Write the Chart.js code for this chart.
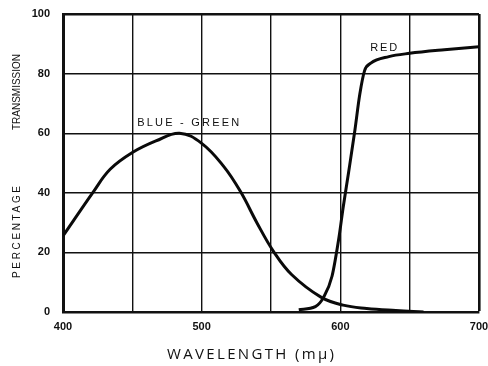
<!DOCTYPE html>
<html>
<head>
<meta charset="utf-8">
<script src="https://cdn.jsdelivr.net/npm/chart.js@4/dist/chart.umd.min.js"></script>
<style>
  html, body { margin: 0; padding: 0; background: #fff; }
  #wrap { width: 488px; height: 366px; }
</style>
</head>
<body>
<div id="wrap"><canvas id="c" width="488" height="366"></canvas></div>
<script>
// Data
const blueGreenWavelength = [400, 422, 434, 450, 467, 484, 500, 516, 528, 540, 552, 565, 586, 602, 619, 640, 660];
const blueGreenTransmission = [25.5, 40.4, 47.9, 53.5, 57.4, 60, 56.6, 48.8, 40.4, 29.8, 20.2, 12.5, 5, 2.3, 1.2, 0.5, 0];
const redWavelength = [570, 582, 588, 594, 599, 602, 606, 610.5, 614, 617.5, 622, 635, 650, 675, 700];
const redTransmission = [0.8, 1.8, 5, 12, 25, 35, 47, 61, 73, 81, 83.5, 85.7, 86.8, 88, 89];
const xTickLabels = [400, 500, 600, 700];
const yTickLabels = [0, 20, 40, 60, 80, 100];
const seriesNames = ['BLUE - GREEN', 'RED'];
const xAxisTitle = 'WAVELENGTH (m\u03BC)';
const yAxisTitleParts = ['PERCENTAGE', 'TRANSMISSION'];

function pts(xs, ys) { return xs.map((x, i) => ({ x: x, y: ys[i] })); }

function fitText(ctx, text, width) {
  ctx.letterSpacing = '0px';
  const w = ctx.measureText(text).width;
  const n = Array.from(text).length;
  const sp = (width - w) / Math.max(1, n - 1);
  ctx.letterSpacing = sp.toFixed(2) + 'px';
}

const textPlugin = {
  id: 'texts',
  afterDraw(chart) {
    const ctx = chart.ctx;
    const xs = chart.scales.x, ys = chart.scales.y;
    ctx.save();
    ctx.fillStyle = '#111';
    // curve labels
    ctx.font = '11px "Liberation Sans", Arial, sans-serif';
    ctx.textBaseline = 'middle';
    ctx.textAlign = 'left';
    fitText(ctx, seriesNames[0], 102);
    ctx.fillText(seriesNames[0], xs.getPixelForValue(453.5), ys.getPixelForValue(63.4));
    fitText(ctx, seriesNames[1], 27);
    ctx.fillText(seriesNames[1], xs.getPixelForValue(621.5), ys.getPixelForValue(88.6));
    // x axis title
    ctx.font = '15px "Open Sans", Lato, sans-serif';
    ctx.textAlign = 'left';
    fitText(ctx, xAxisTitle, 167);
    ctx.fillText(xAxisTitle, 167, 355);
    // y axis title (rotated)
    ctx.font = '10px "Liberation Sans", Arial, sans-serif';
    ctx.translate(17, 0);
    ctx.rotate(-Math.PI / 2);
    ctx.textAlign = 'left';
    fitText(ctx, yAxisTitleParts[0], 92);
    ctx.fillText(yAxisTitleParts[0], -278, 0);
    fitText(ctx, yAxisTitleParts[1], 76);
    ctx.fillText(yAxisTitleParts[1], -130, 0);
    ctx.restore();
  }
};

const edgeWidth = (ctx, edgeVal) => (ctx.tick && ctx.tick.value === edgeVal ? 2.6 : 1.4);

new Chart(document.getElementById('c'), {
  type: 'line',
  data: {
    datasets: [
      {
        label: seriesNames[0],
        data: pts(blueGreenWavelength, blueGreenTransmission),
        borderColor: '#0a0a0a',
        borderWidth: 3,
        pointRadius: 0,
        pointHoverRadius: 0,
        tension: 0.4,
        fill: false
      },
      {
        label: seriesNames[1],
        data: pts(redWavelength, redTransmission),
        borderColor: '#0a0a0a',
        borderWidth: 3,
        pointRadius: 0,
        pointHoverRadius: 0,
        cubicInterpolationMode: 'monotone',
        fill: false
      }
    ]
  },
  options: {
    responsive: false,
    animation: false,
    devicePixelRatio: 1,
    layout: { padding: { top: 14, right: 9, left: 0, bottom: 0 } },
    plugins: { legend: { display: false }, tooltip: { enabled: false } },
    scales: {
      x: {
        type: 'linear',
        min: 400, max: 700,
        afterFit(scale) {
          scale.height = 54;
          scale.paddingLeft = 0;
          scale.paddingRight = 0;
        },
        grid: {
          color: '#111',
          lineWidth: (ctx) => edgeWidth(ctx, 700),
          drawTicks: false
        },
        border: { display: true, color: '#111', width: 2.6 },
        ticks: {
          stepSize: 50,
          padding: 8,
          color: '#111',
          font: { family: '"Liberation Sans", Arial, sans-serif', size: 11, weight: 'bold' },
          maxRotation: 0,
          autoSkip: false,
          callback: (v) => (xTickLabels.includes(v) ? String(v) : '')
        }
      },
      y: {
        min: 0, max: 100,
        afterFit(scale) {
          scale.width = 63;
          scale.paddingTop = 0;
          scale.paddingBottom = 0;
        },
        grid: {
          color: '#111',
          lineWidth: (ctx) => edgeWidth(ctx, 100),
          drawTicks: false
        },
        border: { display: true, color: '#111', width: 3 },
        ticks: {
          stepSize: 20,
          padding: 13,
          color: '#111',
          font: { family: '"Liberation Sans", Arial, sans-serif', size: 11, weight: 'bold' },
          callback: (v) => (yTickLabels.includes(v) ? String(v) : '')
        }
      }
    }
  },
  plugins: [textPlugin]
});
</script>
</body>
</html>
